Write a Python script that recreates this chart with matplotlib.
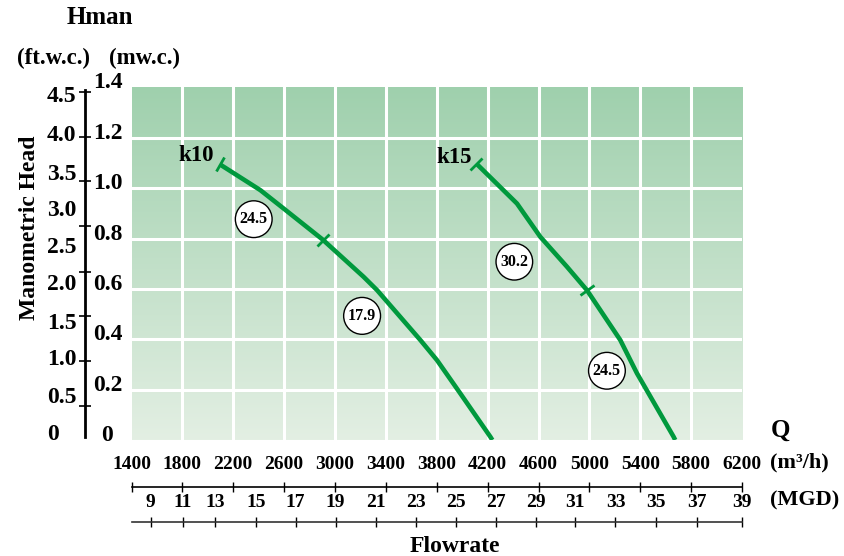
import numpy as np
import matplotlib
matplotlib.use("Agg")
import matplotlib.pyplot as plt
from matplotlib.markers import MarkerStyle
from matplotlib.transforms import Affine2D, ScaledTranslation, blended_transform_factory
from matplotlib.colors import LinearSegmentedColormap

plt.rcParams['font.family'] = ['Liberation Serif', 'DejaVu Serif']
plt.rcParams['font.weight'] = 'bold'

# flowrate axis (m3/h) and head axis (mw.c.)
q_ticks = [1400, 1800, 2200, 2600, 3000, 3400, 3800, 4200, 4600, 5000, 5400, 5800, 6200]
h_ticks = [0, 0.2, 0.4, 0.6, 0.8, 1.0, 1.2, 1.4]
h_labels = ["0", "0.2", "0.4", "0.6", "0.8", "1.0", "1.2", "1.4"]

# MGD scale, labels and where they sit on the m3/h scale
mgd_labels = ["9", "11", "13", "15", "17", "19", "21", "23", "25", "27", "29", "31", "33", "35", "37", "39"]
mgd_pos = [1550, 1805, 2060, 2380, 2690, 3005, 3320, 3635, 3950, 4265, 4580, 4890, 5205, 5525, 5845, 6200]

# ft.w.c. scale
ft_labels = ["0", "0.5", "1.0", "1.5", "2.0", "2.5", "3.0", "3.5", "4.0", "4.5"]
ft_pos = [0.033, 0.18, 0.33, 0.473, 0.628, 0.775, 0.92, 1.065, 1.218, 1.375]
ft_marks = [0.135, 0.313, 0.493, 0.668, 0.850, 1.029, 1.203, 1.382]

# pump curves
k10_q = [2094, 2414, 2597, 2903, 3225, 3331, 3671, 3802, 3985, 4221, 4237]
k10_h = [1.095, 0.992, 0.919, 0.796, 0.648, 0.595, 0.397, 0.317, 0.185, 0.013, 0.0]
k15_q = [4111, 4431, 4614, 4824, 4981, 5243, 5374, 5662, 5675]
k15_h = [1.098, 0.939, 0.807, 0.688, 0.595, 0.397, 0.265, 0.013, 0.0]
k10_marks = [0, 3]   # indices of small cross ticks
k15_marks = [0, 4]

# efficiency bubbles
bub_q = [2361, 3213, 4410, 5138]
bub_h = [0.877, 0.493, 0.708, 0.275]
bub_txt = ["24.5", "17.9", "30.2", "24.5"]

W, H = 844, 556
fig = plt.figure(figsize=(W / 100, H / 100), dpi=100)
fig.patch.set_facecolor("white")

L, R, T, B = 131.5, 742, 87.5, 440
ax = fig.add_axes([L / W, 1 - B / H, (R - L) / W, (B - T) / H])
ax.set_xlim(1400, 6200)
ax.set_ylim(0, 1.4)

# vertical gradient background
cmap = LinearSegmentedColormap.from_list("bg", ["#e3efe3", "#9fd0ad"])
grad = np.linspace(0, 1, 256).reshape(-1, 1)
ax.imshow(grad, extent=[1400, 6200, 0, 1.4], origin="lower", aspect="auto",
          cmap=cmap, zorder=0)

for q in q_ticks[1:-1]:
    ax.axvline(q, color="white", lw=2.2, zorder=1)
for h in h_ticks[1:-1]:
    ax.axhline(h, color="white", lw=2.2, zorder=1)

for s in ax.spines.values():
    s.set_visible(False)
ax.set_xticks([])
ax.set_yticks([])

green = "#00993d"
ax.plot(k10_q, k10_h, color=green, lw=3.3, zorder=3, solid_capstyle="butt")
ax.plot(k15_q, k15_h, color=green, lw=3.3, zorder=3, solid_capstyle="butt")


def cross_ticks(qs, hs, idx):
    pts = ax.transData.transform(np.column_stack([qs, hs]))
    for i in idx:
        j = min(i + 1, len(qs) - 1)
        d = pts[j] - pts[i]
        ang = np.degrees(np.arctan2(d[1], d[0]))
        m = MarkerStyle("|", transform=Affine2D().rotate_deg(ang))
        ax.plot(qs[i], hs[i], marker=m, ms=12, mew=2, color=green, zorder=4)


cross_ticks(k10_q, k10_h, k10_marks)
cross_ticks(k15_q, k15_h, k15_marks)

ax.text(2045, 1.13, "k10", fontsize=16.5, ha="right", va="center", zorder=5)
ax.text(4075, 1.12, "k15", fontsize=16.5, ha="right", va="center", zorder=5)

for q, h, t in zip(bub_q, bub_h, bub_txt):
    ax.text(q, h, t, fontsize=11.5, ha="center", va="center", zorder=6,
            bbox=dict(boxstyle="circle,pad=0.27", fc="white", ec="black", lw=1))

# mw.c. labels, centred in the gap left of the plot, a little above their value
mtrans = blended_transform_factory(fig.transFigure, ax.transData) \
    + ScaledTranslation(0, 0.045, fig.dpi_scale_trans)
for v, t in zip(h_ticks, h_labels):
    fig.text(107.5 / W, v, t, fontsize=17, ha="center", va="center", transform=mtrans)

# ft.w.c. axis
axf = fig.add_axes([84.5 / W, 1 - B / H, 0.0001, (B - T) / H])
axf.set_ylim(0, 1.4)
axf.patch.set_visible(False)
for k in ["top", "right", "bottom"]:
    axf.spines[k].set_visible(False)
axf.spines["left"].set_linewidth(2)
axf.spines["left"].set_bounds(0.01, 1.39)
axf.set_xticks([])
axf.set_yticks(ft_pos)
axf.set_yticklabels(ft_labels, fontsize=17, ha="left")
axf.tick_params(axis="y", which="major", length=0, pad=27)
axf.set_yticks(ft_marks, minor=True)
axf.tick_params(axis="y", which="minor", direction="inout", length=9, width=1.2)

# m3/h axis
axq = fig.add_axes([L / W, 1 - 487 / H, (R - L) / W, 0.0001])
axq.set_xlim(1400, 6200)
axq.patch.set_visible(False)
for k in ["top", "left", "right"]:
    axq.spines[k].set_visible(False)
axq.spines["bottom"].set_linewidth(1.2)
axq.set_yticks([])
axq.set_xticks(q_ticks)
axq.set_xticklabels([str(q) for q in q_ticks], fontsize=14)
axq.tick_params(axis="x", bottom=True, top=False, labelbottom=False, labeltop=True,
                direction="inout", length=7, width=1, pad=6.5)

# MGD axis
axm = fig.add_axes([L / W, 1 - 522 / H, (R - L) / W, 0.0001])
axm.set_xlim(1400, 6200)
axm.patch.set_visible(False)
for k in ["top", "left", "right"]:
    axm.spines[k].set_visible(False)
axm.spines["bottom"].set_linewidth(1.2)
axm.spines["bottom"].set_color("#333333")
axm.set_yticks([])
axm.set_xticks(mgd_pos)
axm.set_xticklabels(mgd_labels, fontsize=14)
axm.tick_params(axis="x", bottom=True, top=False, labelbottom=False, labeltop=True,
                direction="inout", length=7, width=1, pad=4.5)

# titles and units
fig.text(100 / W, 1 - 18 / H, "Hman", fontsize=18, ha="center", va="center")
fig.text(53 / W, 1 - 58 / H, "(ft.w.c.)", fontsize=16.5, ha="center", va="center")
fig.text(145 / W, 1 - 58 / H, "(mw.c.)", fontsize=16.5, ha="center", va="center")
fig.text(30 / W, 1 - 228 / H, "Manometric Head", fontsize=17, rotation=90,
         ha="center", va="center")
fig.text(780 / W, 1 - 430 / H, "Q", fontsize=18, ha="center", va="center")
fig.text(770 / W, 1 - 462 / H, "(m³/h)", fontsize=16, ha="left", va="center")
fig.text(770 / W, 1 - 500 / H, "(MGD)", fontsize=16, ha="left", va="center")
fig.text(455 / W, 1 - 546 / H, "Flowrate", fontsize=17, ha="center", va="center")

fig.savefig("out.png", dpi=100, facecolor="white")
